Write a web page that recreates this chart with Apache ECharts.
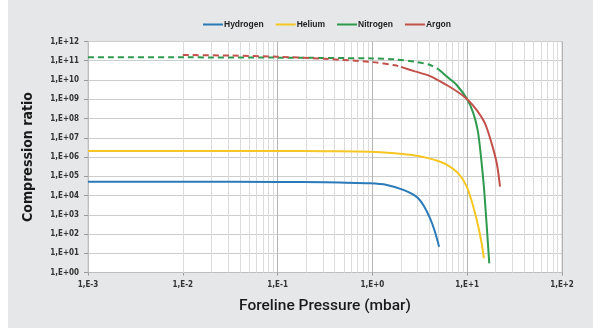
<!DOCTYPE html>
<html>
<head>
<meta charset="utf-8">
<script src="https://cdn.jsdelivr.net/npm/echarts@6/dist/echarts.min.js"></script>
<style>
  html, body { margin: 0; padding: 0; background: #ffffff; }
  #wrap { position: relative; width: 600px; height: 330px; background: #ffffff; }
  #panel { position: absolute; left: 8px; top: 0; width: 585px; height: 328px; background: #e6e7e8; }
  #chart { position: absolute; left: 0; top: 0; width: 600px; height: 330px; }
</style>
</head>
<body>
<div id="wrap"><div id="panel"></div><div id="chart"></div></div>
<script>
// ---- data (pressure in mbar, compression ratio) ----
const seriesNames = ['Hydrogen', 'Helium', 'Nitrogen', 'Argon'];

const hydrogenP  = [0.001, 0.01, 0.1, 0.316, 0.944, 1.42, 2.12, 2.93, 3.44, 4.06, 4.57, 5.05];
const hydrogenCR = [5.2e4, 5.2e4, 5.1e4, 4.9e4, 4.3e4, 3.55e4, 1.95e4, 8.5e3, 3.2e3, 650, 130, 22];

const heliumP  = [0.001, 0.01, 0.1, 0.316, 0.944, 1.73, 2.63, 3.98, 5.01, 6.08, 8.05, 9.89, 11.6, 13.1, 14.2, 15.0];
const heliumCR = [2.05e6, 2.05e6, 2.05e6, 2.0e6, 1.9e6, 1.58e6, 1.26e6, 8.5e5, 6.0e5, 4.0e5, 1.4e5, 2.9e4, 2.6e3, 240, 33, 5.5];

// dashed (estimated) part and solid (measured) part of nitrogen
const nitrogenDashP  = [0.001, 0.01, 0.1, 1.0, 1.73, 2.81, 4.06, 5.01];
const nitrogenDashCR = [1.5e11, 1.5e11, 1.45e11, 1.32e11, 1.17e11, 8.9e10, 6.0e10, 3.5e10];
const nitrogenP  = [5.01, 5.6, 6.32, 7.74, 10.0, 11.6, 12.9, 13.6, 14.45, 15.2, 17.1];
const nitrogenCR = [3.5e10, 2.2e10, 1.3e10, 5.5e9, 1.0e9, 1.9e8, 2.5e7, 3.5e6, 2.1e5, 1.26e4, 3.0];

// dashed (estimated) part and solid (measured) part of argon
const argonDashP  = [0.01, 0.0316, 0.1, 0.316, 1.0, 1.73, 2.0];
const argonDashCR = [2.0e11, 1.86e11, 1.62e11, 1.26e11, 8.5e10, 5.8e10, 4.8e10];
const argonP  = [2.0, 2.81, 4.06, 6.08, 8.39, 10.0, 12.6, 15.4, 18.1, 20.5, 22.2];
const argonCR = [4.8e10, 2.8e10, 1.6e10, 5.5e9, 2.0e9, 1.0e9, 2.75e8, 5.6e7, 5.1e6, 4.7e5, 2.9e4];

const colors = { Hydrogen: '#2a7ab9', Helium: '#f6c623', Nitrogen: '#2e9a4e', Argon: '#c2504b' };

// ---- helpers ----
function pairs(p, v) { return p.map((x, i) => [x, v[i]]); }
const minorX = [];
for (let e = -3; e < 2; e++) {
  for (let m = 2; m <= 9; m++) minorX.push({ xAxis: m * Math.pow(10, e) });
}

const condensed = "'Liberation Sans Narrow', 'Arial Narrow', 'DejaVu Sans Condensed', sans-serif";

function lineSeries(name, data, dashed, extra) {
  return Object.assign({
    name: name,
    type: 'line',
    data: data,
    showSymbol: false,
    symbol: 'none',
    smooth: 0.3,
    color: colors[name],
    lineStyle: { width: 2, color: colors[name], type: dashed ? [6, 4] : 'solid' },
    z: 3
  }, extra || {});
}

const chart = echarts.init(document.getElementById('chart'), null, { renderer: 'canvas' });
chart.setOption({
  backgroundColor: 'transparent',
  animation: false,
  legend: {
    data: seriesNames,
    top: 15,
    left: 198,
    icon: 'rect',
    itemWidth: 20,
    itemHeight: 2,
    itemGap: 12,
    textStyle: { fontSize: 8.5, fontWeight: 'bold', color: '#222', fontFamily: 'Liberation Sans, Arial, sans-serif', padding: [0, 0, 0, -4] }
  },
  grid: {
    left: 88, right: 38, top: 41.5, bottom: 57.5,
    show: true, backgroundColor: '#ffffff', borderColor: '#c8c8c8', borderWidth: 1
  },
  xAxis: {
    type: 'log', logBase: 10, min: 0.001, max: 100, interval: 1,
    name: 'Foreline Pressure (mbar)',
    nameLocation: 'middle', nameGap: 26,
    nameTextStyle: { fontSize: 15.5, fontWeight: 500, color: '#1a1a1a', fontFamily: 'Roboto, sans-serif' },
    axisLine: { lineStyle: { color: '#bdbdbd', width: 1 } },
    axisTick: { show: true, length: 3, lineStyle: { color: '#9a9a9a' } },
    axisLabel: {
      fontSize: 8, fontWeight: 'bold', color: '#333', fontFamily: condensed, margin: 8,
      formatter: function (v) {
        const e = Math.round(Math.log10(v));
        return '1,E' + (e < 0 ? '-' + (-e) : '+' + e);
      }
    },
    splitLine: { show: true, lineStyle: { color: '#b4b4b4', width: 1 } }
  },
  yAxis: {
    type: 'log', logBase: 10, min: 1, max: 1e12, interval: 1,
    name: 'Compression ratio',
    nameLocation: 'middle', nameGap: 53, nameRotate: 90,
    nameTextStyle: { fontSize: 14, fontWeight: 'bold', color: '#1a1a1a', fontFamily: condensed },
    axisLine: { show: true, lineStyle: { color: '#bdbdbd', width: 1 } },
    axisTick: { show: true, length: 4, lineStyle: { color: '#9a9a9a' } },
    axisLabel: {
      fontSize: 8, fontWeight: 'bold', color: '#333', fontFamily: condensed, margin: 9,
      formatter: function (v) {
        const e = Math.round(Math.log10(v));
        return '1,E+' + String(e).padStart(2, '0');
      }
    },
    splitLine: { show: true, lineStyle: { color: '#cdcdcd', width: 1 } }
  },
  series: [
    lineSeries('Hydrogen', pairs(hydrogenP, hydrogenCR), false, {
      markLine: {
        silent: true, symbol: 'none', z: 1, animation: false,
        label: { show: false },
        lineStyle: { color: '#dcdcdc', width: 1, type: 'solid' },
        emphasis: { disabled: true },
        data: minorX
      }
    }),
    lineSeries('Helium', pairs(heliumP, heliumCR), false),
    lineSeries('Nitrogen', pairs(nitrogenP, nitrogenCR), false),
    lineSeries('Argon', pairs(argonP, argonCR), false),
    lineSeries('Nitrogen', pairs(nitrogenDashP, nitrogenDashCR), true),
    lineSeries('Argon', pairs(argonDashP, argonDashCR), true)
  ]
});
</script>
</body>
</html>
